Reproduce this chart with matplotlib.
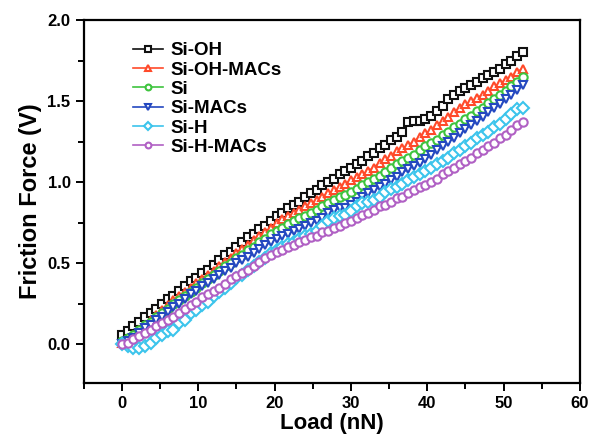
import numpy as np
import matplotlib
matplotlib.use('Agg')
import matplotlib.pyplot as plt
from matplotlib.ticker import MultipleLocator

plt.rcParams['font.family'] = ['Liberation Sans', 'DejaVu Sans']
plt.rcParams['font.weight'] = 'bold'

# load axis (nN), one sample every 0.75 nN
load = np.linspace(0, 52.5, 71)

si_oh = [0.06, 0.08, 0.11, 0.14, 0.17, 0.19, 0.22, 0.25, 0.28, 0.30,
         0.33, 0.36, 0.39, 0.41, 0.44, 0.46, 0.49, 0.52, 0.55, 0.57,
         0.60, 0.63, 0.66, 0.68, 0.71, 0.73, 0.76, 0.79, 0.81, 0.84,
         0.86, 0.88, 0.91, 0.93, 0.95, 0.98, 1.00, 1.02, 1.05, 1.07,
         1.09, 1.11, 1.13, 1.16, 1.18, 1.21, 1.23, 1.26, 1.28, 1.31,
         1.37, 1.38, 1.38, 1.39, 1.41, 1.44, 1.47, 1.51, 1.54, 1.56,
         1.58, 1.60, 1.62, 1.64, 1.66, 1.68, 1.70, 1.73, 1.75, 1.78,
         1.80]
si_oh_macs = [0.01, 0.03, 0.06, 0.09, 0.12, 0.15, 0.18, 0.21, 0.24, 0.27,
              0.30, 0.32, 0.35, 0.38, 0.40, 0.43, 0.45, 0.48, 0.51, 0.53,
              0.56, 0.59, 0.61, 0.64, 0.67, 0.69, 0.72, 0.75, 0.77, 0.79,
              0.81, 0.83, 0.85, 0.87, 0.89, 0.91, 0.93, 0.95, 0.97, 0.99,
              1.01, 1.03, 1.05, 1.07, 1.09, 1.12, 1.14, 1.16, 1.19, 1.21,
              1.23, 1.25, 1.28, 1.30, 1.32, 1.35, 1.38, 1.40, 1.43, 1.46,
              1.48, 1.50, 1.52, 1.54, 1.56, 1.59, 1.61, 1.63, 1.65, 1.68,
              1.70]
si = [0.02, 0.04, 0.06, 0.09, 0.12, 0.14, 0.17, 0.19, 0.22, 0.25,
      0.27, 0.30, 0.32, 0.35, 0.38, 0.40, 0.43, 0.45, 0.48, 0.50,
      0.53, 0.55, 0.58, 0.60, 0.63, 0.65, 0.68, 0.70, 0.72, 0.74,
      0.76, 0.78, 0.79, 0.81, 0.83, 0.85, 0.87, 0.89, 0.91, 0.92,
      0.94, 0.96, 0.98, 1.00, 1.02, 1.04, 1.06, 1.09, 1.11, 1.13,
      1.15, 1.17, 1.20, 1.22, 1.24, 1.26, 1.29, 1.31, 1.34, 1.36,
      1.39, 1.41, 1.44, 1.46, 1.49, 1.51, 1.54, 1.56, 1.59, 1.62,
      1.65]
si_macs = [0.00, 0.02, 0.04, 0.07, 0.10, 0.12, 0.15, 0.17, 0.20, 0.23,
           0.25, 0.28, 0.31, 0.33, 0.36, 0.38, 0.40, 0.43, 0.45, 0.47,
           0.50, 0.52, 0.54, 0.56, 0.59, 0.61, 0.63, 0.65, 0.67, 0.68,
           0.70, 0.71, 0.73, 0.75, 0.76, 0.78, 0.81, 0.83, 0.84, 0.84,
           0.86, 0.88, 0.91, 0.93, 0.95, 0.97, 0.99, 1.01, 1.03, 1.06,
           1.08, 1.10, 1.12, 1.14, 1.17, 1.20, 1.22, 1.25, 1.27, 1.30,
           1.33, 1.35, 1.38, 1.40, 1.43, 1.46, 1.48, 1.51, 1.54, 1.57,
           1.60]
si_h = [0.00, -0.01, -0.02, -0.02, -0.01, 0.01, 0.04, 0.06, 0.08, 0.09,
        0.13, 0.15, 0.19, 0.21, 0.24, 0.26, 0.30, 0.32, 0.35, 0.38,
        0.41, 0.43, 0.46, 0.48, 0.51, 0.53, 0.56, 0.58, 0.60, 0.62,
        0.63, 0.65, 0.67, 0.68, 0.70, 0.73, 0.76, 0.78, 0.79, 0.80,
        0.82, 0.85, 0.87, 0.88, 0.89, 0.91, 0.94, 0.96, 0.97, 0.99,
        1.01, 1.03, 1.05, 1.07, 1.09, 1.11, 1.13, 1.15, 1.18, 1.20,
        1.22, 1.24, 1.27, 1.29, 1.31, 1.34, 1.36, 1.39, 1.42, 1.45,
        1.46]
si_h_macs = [0.00, 0.01, 0.03, 0.05, 0.07, 0.09, 0.11, 0.13, 0.15, 0.17,
             0.19, 0.22, 0.24, 0.26, 0.29, 0.31, 0.33, 0.35, 0.37, 0.40,
             0.42, 0.44, 0.46, 0.48, 0.51, 0.53, 0.55, 0.57, 0.58, 0.60,
             0.61, 0.63, 0.64, 0.66, 0.67, 0.69, 0.70, 0.72, 0.73, 0.75,
             0.76, 0.78, 0.80, 0.81, 0.83, 0.85, 0.86, 0.88, 0.90, 0.91,
             0.93, 0.95, 0.97, 0.98, 1.00, 1.02, 1.05, 1.07, 1.09, 1.11,
             1.13, 1.15, 1.18, 1.20, 1.22, 1.24, 1.27, 1.29, 1.32, 1.35,
             1.37]

labels = ['Si-OH', 'Si-OH-MACs', 'Si', 'Si-MACs', 'Si-H', 'Si-H-MACs']
series = [si_oh, si_oh_macs, si, si_macs, si_h, si_h_macs]
colors = ['#111111', '#ff4a2a', '#3ec43e', '#2448c0', '#3cc4ec', '#b060c4']
markers = ['s', '^', 'o', 'v', 'D', 'o']

fig = plt.figure(figsize=(5.9, 4.44), dpi=100)
ax = fig.add_axes([0.142, 0.137, 0.841, 0.818])

for y, lab, c, m in zip(series, labels, colors, markers):
    ax.plot(load, y, color=c, marker=m, markersize=6, markerfacecolor='white',
            markeredgecolor=c, markeredgewidth=1.5, linewidth=1.2, label=lab)

ax.set_xlim(-5, 60)
ax.set_ylim(-0.24, 2.0)
ax.xaxis.set_major_locator(MultipleLocator(10))
ax.xaxis.set_minor_locator(MultipleLocator(5))
ax.yaxis.set_major_locator(MultipleLocator(0.5))
ax.yaxis.set_minor_locator(MultipleLocator(0.25))
ax.tick_params(which='major', direction='out', length=6, width=1.4, labelsize=12)
ax.tick_params(which='minor', direction='out', length=4, width=1.4)
for lbl in ax.get_xticklabels() + ax.get_yticklabels():
    lbl.set_fontweight('bold')
for sp in ax.spines.values():
    sp.set_linewidth(1.6)

ax.set_xlabel('Load (nN)', fontsize=16, fontweight='bold', labelpad=1)
ax.set_ylabel('Friction Force (V)', fontsize=17, fontweight='bold', labelpad=4)

leg = ax.legend(loc='upper left', frameon=False, fontsize=13.5, markerscale=0.7,
                handlelength=1.6, handletextpad=0.35, labelspacing=0.12,
                borderaxespad=0.0, bbox_to_anchor=(0.085, 0.96))
for t in leg.get_texts():
    t.set_fontweight('bold')

plt.savefig('out.png', dpi=100)
plt.close()
